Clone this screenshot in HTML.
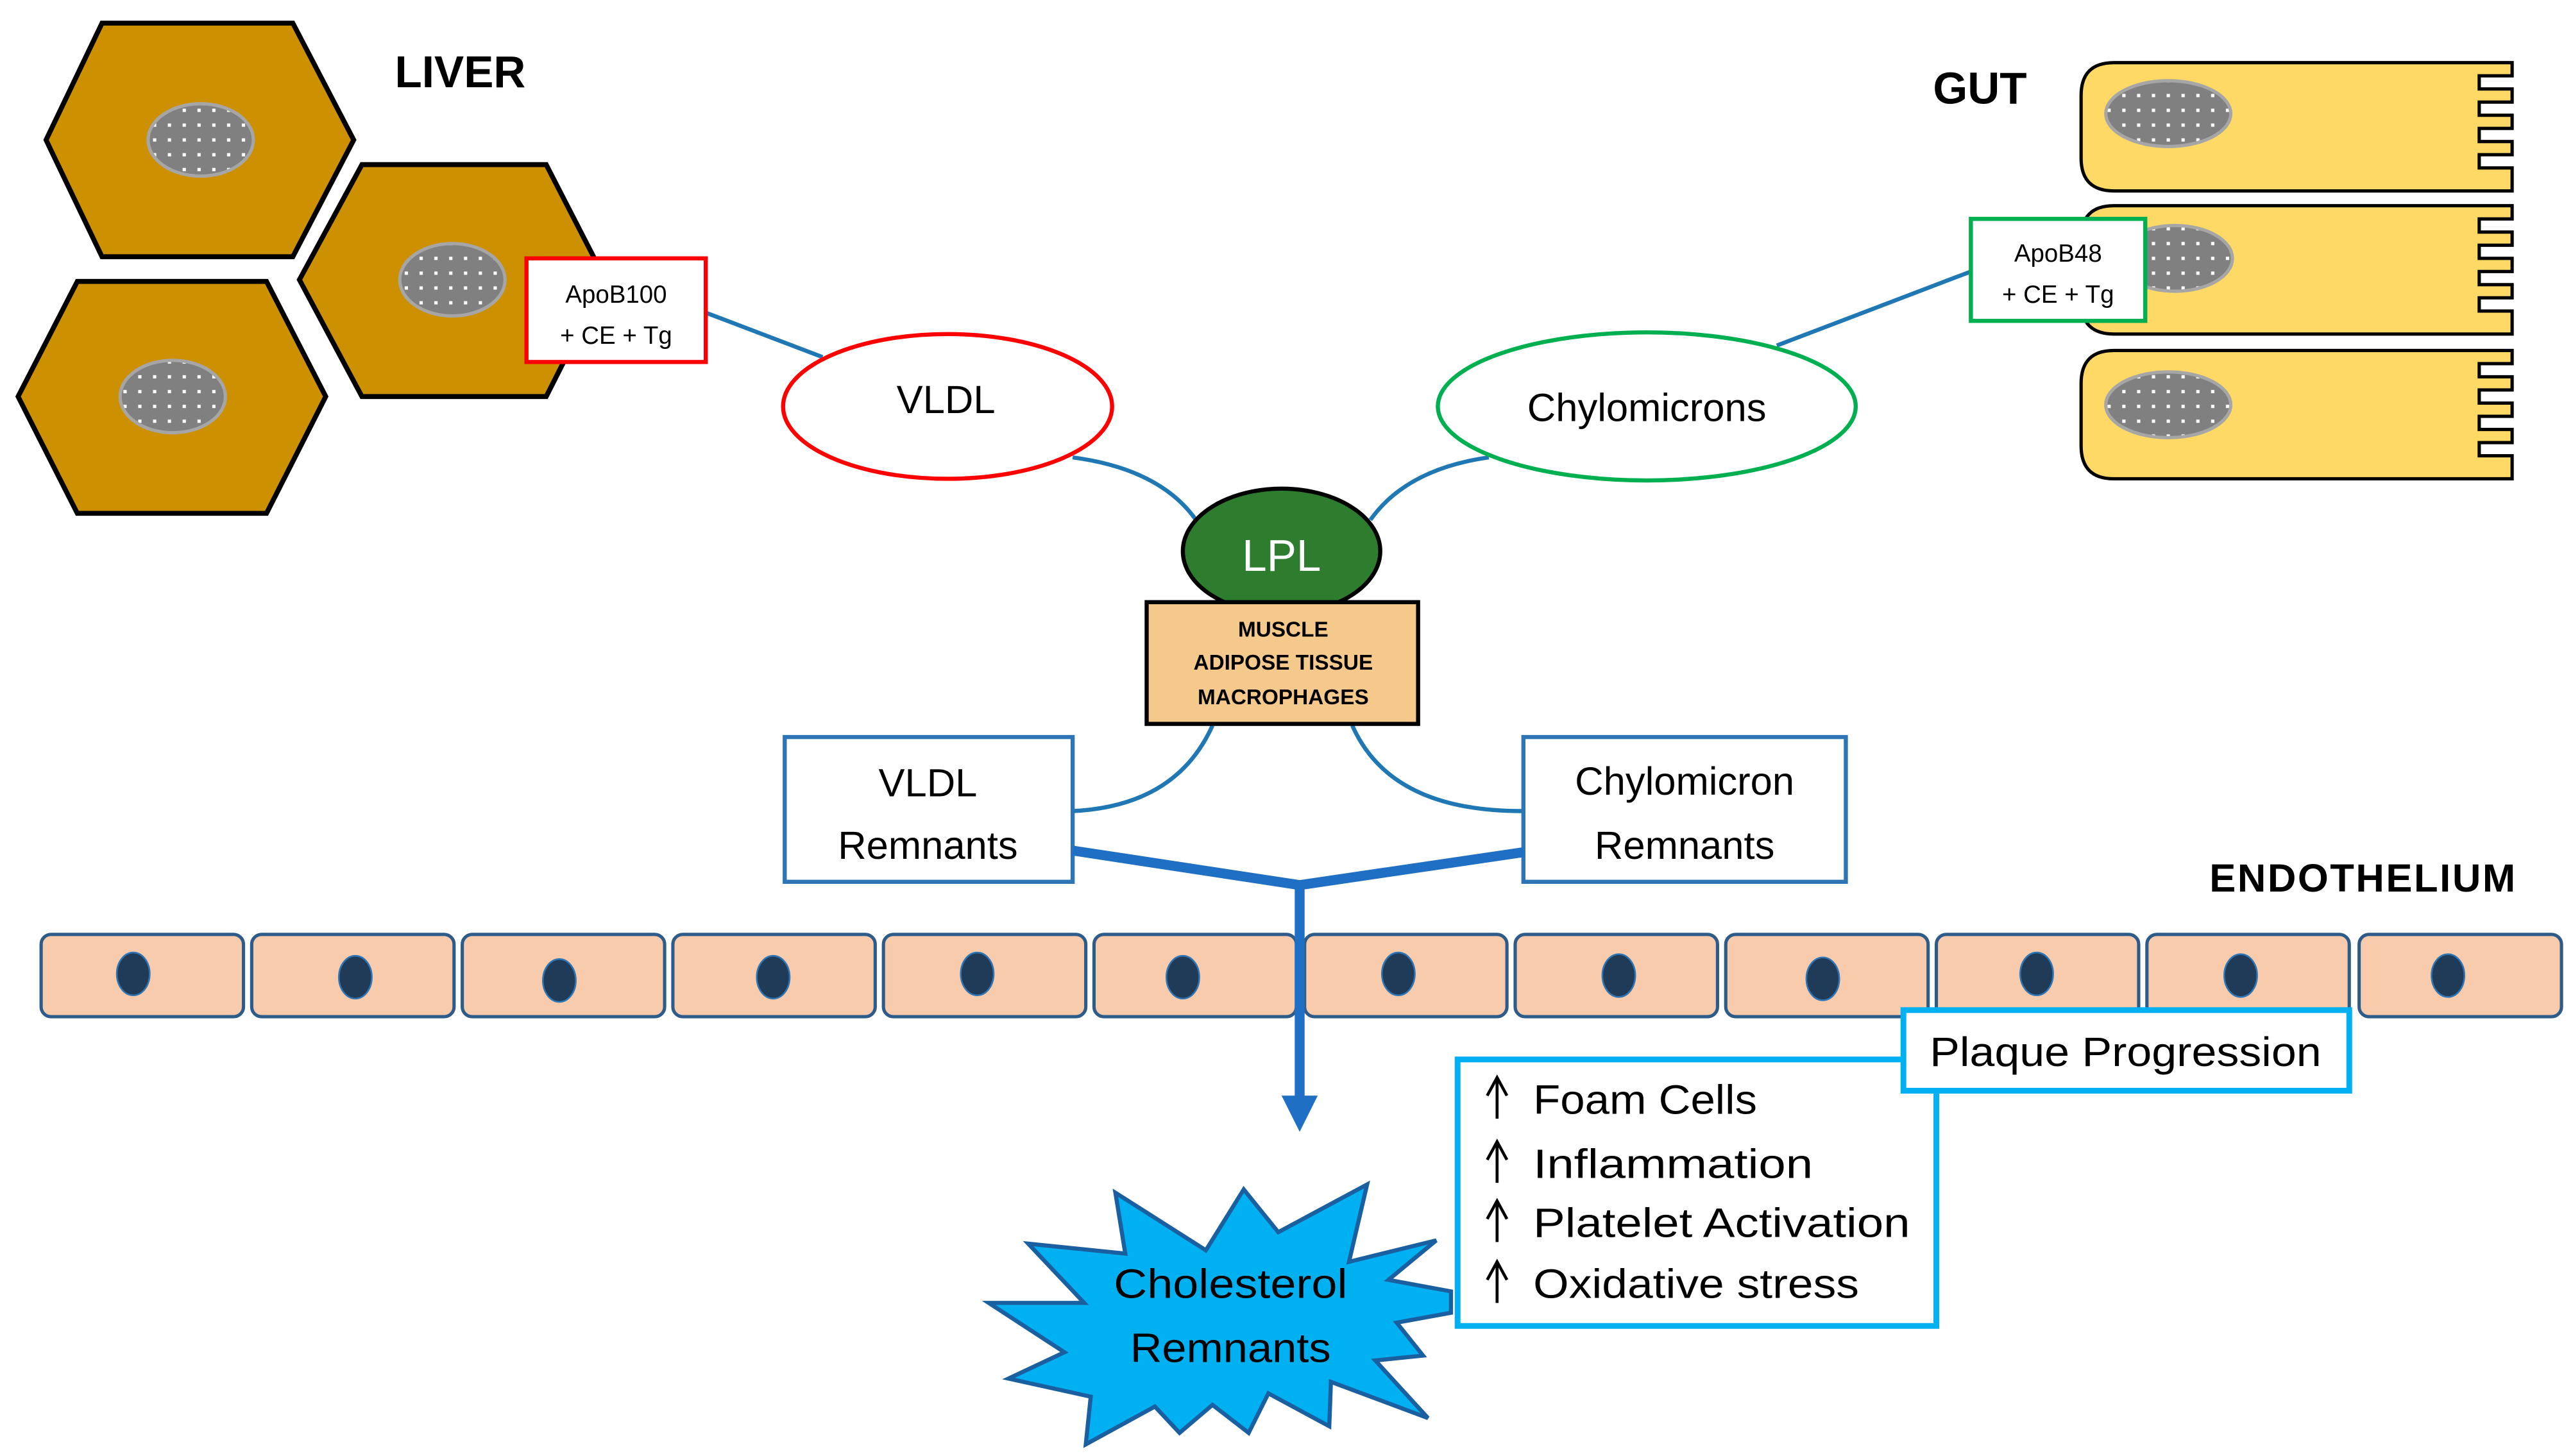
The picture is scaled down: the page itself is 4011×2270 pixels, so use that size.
<!DOCTYPE html>
<html><head><meta charset="utf-8"><style>html,body{margin:0;padding:0;background:#fff}svg{display:block}</style></head><body>
<svg width="4011" height="2270" viewBox="0 0 1564 885" xmlns="http://www.w3.org/2000/svg" font-family="Liberation Sans, sans-serif">
<defs>
<pattern id="dots" width="9" height="9" patternUnits="userSpaceOnUse"><rect width="9" height="9" fill="#808080"/><rect x="3" y="3" width="2" height="2" fill="#fff"/></pattern>
</defs>
<g stroke="#000" stroke-width="3" fill="#cc9000">
<polygon points="62,14 178,14 215,85 178,156 62,156 28,85"/>
<polygon points="220,100 332,100 368,170 332,241 220,241 182,170"/>
<polygon points="47,171 162,171 198,241 162,312 47,312 11,241"/>
</g>
<g fill="url(#dots)" stroke="#a6a6a6" stroke-width="2">
<ellipse cx="122" cy="85" rx="32" ry="22"/><ellipse cx="275" cy="170" rx="32" ry="22"/><ellipse cx="105" cy="241" rx="32" ry="22"/>
</g>
<text x="240" y="53" font-size="27" font-weight="bold">LIVER</text>
<text x="1175" y="63" font-size="27" font-weight="bold">GUT</text>
<text x="1343" y="542" font-size="24" font-weight="bold" letter-spacing="1">ENDOTHELIUM</text>
<g fill="#ffd966" stroke="#000" stroke-width="2">
<path d="M1285,38 H1527 V46 H1507 V54 H1527 V62 H1507 V70 H1527 V78 H1507 V86 H1527 V94 H1507 V102 H1527 V116 H1285 Q1265,116 1265,96 V58 Q1265,38 1285,38 Z"/>
<path d="M1285,125 H1527 V133 H1507 V141 H1527 V149 H1507 V157 H1527 V165 H1507 V173 H1527 V181 H1507 V189 H1527 V203 H1285 Q1265,203 1265,183 V145 Q1265,125 1285,125 Z"/>
<path d="M1285,213 H1527 V221 H1507 V229 H1527 V237 H1507 V245 H1527 V253 H1507 V261 H1527 V269 H1507 V277 H1527 V291 H1285 Q1265,291 1265,271 V233 Q1265,213 1285,213 Z"/>
</g>
<g fill="url(#dots)" stroke="#a6a6a6" stroke-width="2">
<ellipse cx="1318" cy="69" rx="38" ry="20"/><ellipse cx="1322" cy="157" rx="35" ry="20"/><ellipse cx="1318" cy="246" rx="38" ry="20"/>
</g>
<g stroke="#1f77b4" stroke-width="2.5" fill="none">
<line x1="429" y1="190" x2="500" y2="217"/>
<line x1="1080" y1="210" x2="1198" y2="165"/>
<path d="M652,278 Q705,285 727,316"/>
<path d="M905,278 Q855,285 833,316"/>
<path d="M737,441 Q715,490 652,493"/>
<path d="M822,441 Q845,493 925,493"/>
</g>
<rect x="320" y="157" width="109" height="63" fill="#fff" stroke="#f00" stroke-width="2.5"/>
<text x="374.5" y="184" font-size="15" text-anchor="middle">ApoB100</text>
<text x="374.5" y="209" font-size="15" text-anchor="middle">+ CE + Tg</text>
<rect x="1198" y="133" width="106" height="62" fill="#fff" stroke="#00b050" stroke-width="2.5"/>
<text x="1251" y="159" font-size="15" text-anchor="middle">ApoB48</text>
<text x="1251" y="184" font-size="15" text-anchor="middle">+ CE + Tg</text>
<ellipse cx="576" cy="247" rx="100" ry="44" fill="#fff" stroke="#f00" stroke-width="2.5"/>
<text x="575" y="251" font-size="24" text-anchor="middle">VLDL</text>
<ellipse cx="1001" cy="247" rx="127" ry="45" fill="#fff" stroke="#00b050" stroke-width="2.5"/>
<text x="1001" y="256" font-size="24" text-anchor="middle">Chylomicrons</text>
<ellipse cx="779" cy="335" rx="60" ry="38" fill="#2e7d2e" stroke="#000" stroke-width="2.5"/>
<text x="779" y="347" font-size="27" fill="#fff" text-anchor="middle">LPL</text>
<rect x="697" y="366" width="165" height="74" fill="#f5c98c" stroke="#000" stroke-width="2.5"/>
<g font-size="13" font-weight="bold" text-anchor="middle"><text x="780" y="387">MUSCLE</text><text x="780" y="407">ADIPOSE TISSUE</text><text x="780" y="428">MACROPHAGES</text></g>
<rect x="477" y="448" width="175" height="88" fill="#fff" stroke="#2e75b6" stroke-width="2.5"/>
<text x="564" y="484" font-size="24" text-anchor="middle">VLDL</text><text x="564" y="522" font-size="24" text-anchor="middle">Remnants</text>
<rect x="926" y="448" width="196" height="88" fill="#fff" stroke="#2e75b6" stroke-width="2.5"/>
<text x="1024" y="483" font-size="24" text-anchor="middle">Chylomicron</text><text x="1024" y="522" font-size="24" text-anchor="middle">Remnants</text>
<g fill="#f8cbad" stroke="#2e5c8a" stroke-width="2">
<rect x="25" y="568" width="123" height="50" rx="6"/><rect x="153" y="568" width="123" height="50" rx="6"/><rect x="281" y="568" width="123" height="50" rx="6"/><rect x="409" y="568" width="123" height="50" rx="6"/><rect x="537" y="568" width="123" height="50" rx="6"/><rect x="665" y="568" width="123" height="50" rx="6"/><rect x="793" y="568" width="123" height="50" rx="6"/><rect x="921" y="568" width="123" height="50" rx="6"/><rect x="1049" y="568" width="123" height="50" rx="6"/><rect x="1177" y="568" width="123" height="50" rx="6"/><rect x="1305" y="568" width="123" height="50" rx="6"/><rect x="1434" y="568" width="123" height="50" rx="6"/>
</g>
<g fill="#1f3b57" stroke="#2e75b6" stroke-width="1">
<ellipse cx="81" cy="592" rx="10" ry="13"/><ellipse cx="216" cy="594" rx="10" ry="13"/><ellipse cx="340" cy="596" rx="10" ry="13"/><ellipse cx="470" cy="594" rx="10" ry="13"/><ellipse cx="594" cy="592" rx="10" ry="13"/><ellipse cx="719" cy="594" rx="10" ry="13"/><ellipse cx="850" cy="592" rx="10" ry="13"/><ellipse cx="984" cy="593" rx="10" ry="13"/><ellipse cx="1108" cy="595" rx="10" ry="13"/><ellipse cx="1238" cy="592" rx="10" ry="13"/><ellipse cx="1362" cy="593" rx="10" ry="13"/><ellipse cx="1488" cy="593" rx="10" ry="13"/>
</g>
<g stroke="#1f6fc5" stroke-width="6" fill="none" stroke-linejoin="round">
<polyline points="652,517 790,538 926,518"/>
<line x1="790" y1="538" x2="790" y2="668"/>
</g>
<polygon points="779,666 801,666 790,688" fill="#1f6fc5"/>
<polygon points="601,792 659,792 625,756 684,762 678,725 733,760 756,723 777,749 831,720 820,767 873,754 844,778 882,785 882,798 849,804 865,824 836,827 868,862 809,840 808,867 771,847 759,871 737,854 717,871 702,855 660,878 663,849 613,838 647,822" fill="#00b0f0" stroke="#1a5fa0" stroke-width="2.5" stroke-linejoin="miter"/>
<text x="748" y="789" font-size="25" text-anchor="middle" textLength="142" lengthAdjust="spacingAndGlyphs">Cholesterol</text>
<text x="748" y="828" font-size="25" text-anchor="middle" textLength="122" lengthAdjust="spacingAndGlyphs">Remnants</text>
<rect x="886" y="644" width="291" height="162" fill="#fff" stroke="#00b0f0" stroke-width="3.5"/>
<rect x="1157" y="614" width="271" height="49" fill="#fff" stroke="#00b0f0" stroke-width="3.5"/>
<text x="1292" y="648" font-size="25" text-anchor="middle" textLength="238" lengthAdjust="spacingAndGlyphs">Plaque Progression</text>
<g stroke="#000" stroke-width="1.8" fill="none">
<path d="M910,680 V656 M904,666 L910,655 L916,666"/>
<path d="M910,719 V695 M904,705 L910,694 L916,705"/>
<path d="M910,755 V731 M904,741 L910,730 L916,741"/>
<path d="M910,792 V768 M904,778 L910,767 L916,778"/>
</g>
<g font-size="25"><text x="932" y="677" textLength="136" lengthAdjust="spacingAndGlyphs">Foam Cells</text><text x="932" y="716" textLength="170" lengthAdjust="spacingAndGlyphs">Inflammation</text><text x="932" y="752" textLength="229" lengthAdjust="spacingAndGlyphs">Platelet Activation</text><text x="932" y="789" textLength="198" lengthAdjust="spacingAndGlyphs">Oxidative stress</text></g>
</svg>
</body></html>
